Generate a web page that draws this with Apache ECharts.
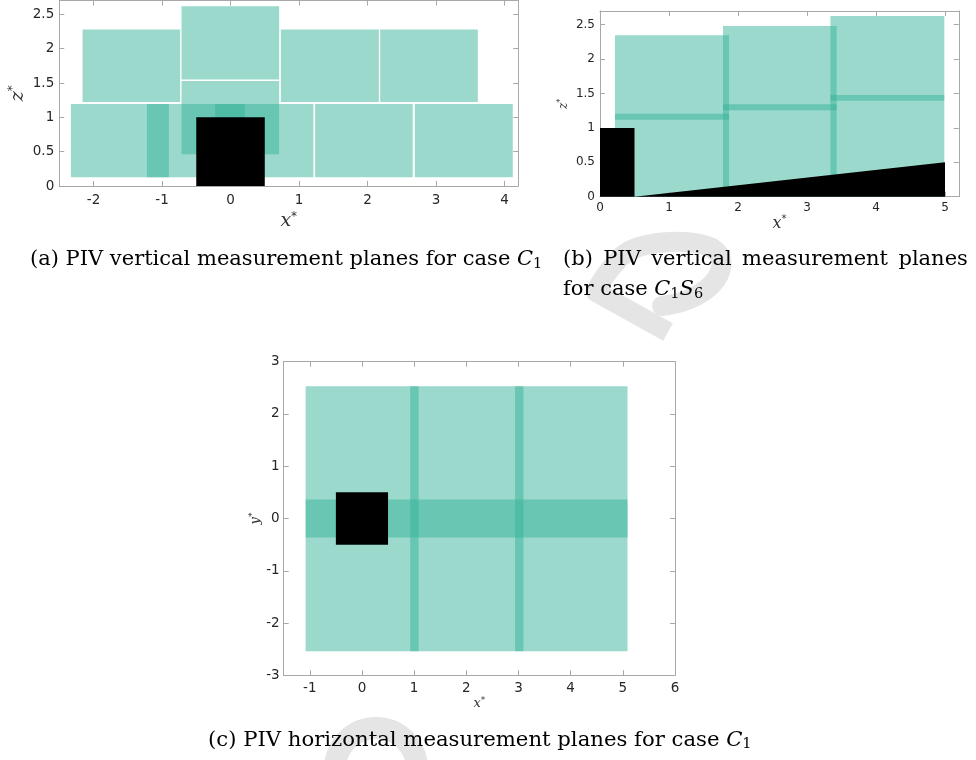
<!DOCTYPE html>
<html>
<head>
<meta charset="utf-8">
<script src="https://cdn.jsdelivr.net/npm/echarts@6/dist/echarts.min.js"></script>
<style>
  html, body { margin: 0; padding: 0; background: #fff; }
  #main { width: 976px; height: 760px; }
</style>
</head>
<body>
<div id="main"></div>
<script>
// ---- (a) case C1, vertical planes seen from the side: [x0, x1, z0, z1]
const planesA_lower = [[-2.33, -0.90, 0.127, 1.194], [-1.22, 0.21, 0.127, 1.194], [-0.225, 1.21, 0.127, 1.194], [1.235, 2.66, 0.127, 1.194], [2.69, 4.12, 0.127, 1.194]];
const planesA_upper = [[-2.16, -0.735, 1.223, 2.28], [-0.715, 0.71, 1.55, 2.617], [-0.715, 0.71, 0.461, 1.53], [0.735, 2.165, 1.223, 2.28], [2.185, 3.61, 1.223, 2.28]];
const cubeA = [[-0.5, 0.5, 0, 1]];
const xRangeA = [-2.5, 4.2];
const zRangeA = [0, 2.7];
const xTicksA = [-2, -1, 0, 1, 2, 3, 4];
const zTicksA = [0, 0.5, 1, 1.5, 2, 2.5];

// ---- (b) case C1S6, planes above the sloping floor
const planesB = [[0.217, 1.87, 0, 2.346], [1.783, 3.43, 0, 2.481], [3.34, 4.99, 0, 2.627]];
const crossPlanesB = [[0.217, 1.87, 1.12, 1.206], [1.783, 3.43, 1.256, 1.343], [3.34, 4.99, 1.395, 1.478]];
const cubeB = [[0, 0.5, 0, 1]];
const slopeB = [[0.5, 0], [5, 0], [5, 0.5]];
const xRangeB = [0, 5.2];
const zRangeB = [0, 2.7];
const xTicksB = [0, 1, 2, 3, 4, 5];
const zTicksB = [0, 0.5, 1, 1.5, 2, 2.5];

// ---- (c) case C1, horizontal plane seen from above
const planeC = [[-1.08, 5.09, -2.54, 2.53]];
const crossPlanesC = [[-1.08, 5.09, -0.363, 0.363], [0.925, 1.085, -2.54, 2.53], [2.935, 3.095, -2.54, 2.53]];
const cubeC = [[-0.5, 0.5, -0.5, 0.5]];
const xRangeC = [-1.5, 6];
const yRangeC = [-3, 3];
const xTicksC = [-1, 0, 1, 2, 3, 4, 5, 6];
const yTicksC = [-3, -2, -1, 0, 1, 2, 3];

const AXIS_GRAY = '#a8a8a8';
const LABEL_COLOR = '#262626';
const PLANE_COLOR = 'rgba(54,180,154,0.5)';
const SOLID = '#000000';
const SERIF = 'DejaVu Serif';
const MARK_GRAY = '#e5e5e5';

function nameStyle(size, starSize, lift) {
  return {
    rich: {
      v: { fontFamily: SERIF, fontStyle: 'italic', fontSize: size, color: '#333' },
      s: { fontFamily: 'DejaVu Sans', fontSize: starSize, color: '#333', padding: [0, 0, lift, 0] }
    }
  };
}

function axisPair(kind, grid, range, ticks, o) {
  const common = {
    type: 'value', gridIndex: grid, min: range[0], max: range[1],
    splitLine: { show: false },
    axisLine: { show: true, onZero: false, lineStyle: { color: AXIS_GRAY, width: 1 } },
    axisTick: { show: true, inside: true, length: 5, customValues: ticks, lineStyle: { color: AXIS_GRAY } }
  };
  const main = Object.assign({}, common, {
    position: kind === 'x' ? 'bottom' : 'left',
    axisLabel: { show: true, customValues: ticks, margin: o.margin, fontSize: o.fs, color: LABEL_COLOR, fontFamily: 'DejaVu Sans' },
    name: o.name, nameLocation: 'middle', nameGap: o.nameGap, nameTextStyle: o.nameStyle
  });
  const mirror = Object.assign({}, common, {
    position: kind === 'x' ? 'top' : 'right',
    axisLabel: { show: false }
  });
  return [main, mirror];
}

function renderRect(params, api) {
  const tl = api.coord([api.value(0), api.value(3)]);
  const br = api.coord([api.value(1), api.value(2)]);
  return {
    type: 'rect',
    shape: { x: tl[0], y: tl[1], width: br[0] - tl[0], height: br[1] - tl[1] },
    style: api.style()
  };
}

function renderTriangle(params, api) {
  const pts = [];
  for (let k = 0; k < 3; k++) pts.push(api.coord([api.value(2 * k), api.value(2 * k + 1)]));
  return { type: 'polygon', shape: { points: pts }, style: api.style() };
}

function rects(axisIdx, data, color) {
  return {
    type: 'custom', xAxisIndex: axisIdx, yAxisIndex: axisIdx, silent: true,
    renderItem: renderRect, data: data, itemStyle: { color: color },
    encode: { x: [0, 1], y: [2, 3] }
  };
}

function stroke(w, cap) {
  return { fill: null, stroke: MARK_GRAY, lineWidth: w, lineCap: cap || 'round' };
}

function captionRich(size) {
  return {
    n: { fontFamily: SERIF, fontSize: size, color: '#111', lineHeight: 28 },
    c: { fontFamily: SERIF, fontStyle: 'italic', fontSize: size, color: '#111', lineHeight: 28 },
    s: { fontFamily: SERIF, fontSize: size * 0.69, color: '#111', lineHeight: 16, padding: [8, 0, 0, 0] },
    g: { fontFamily: SERIF, fontSize: size, width: 10.4, lineHeight: 28 }
  };
}

const chart = echarts.init(document.getElementById('main'), null, { renderer: 'canvas' });

chart.setOption({
  animation: false,
  backgroundColor: '#ffffff',
  grid: [
    { left: 59.25, top: 0.6, width: 459, height: 185.4 },
    { left: 600, top: 10.9, width: 358.8, height: 185.8 },
    { left: 283.7, top: 361.7, width: 391.3, height: 313.6 }
  ],
  xAxis: [].concat(
    axisPair('x', 0, xRangeA, xTicksA, { margin: 7, fs: 13.5, name: '{v|x}{s|*}', nameGap: 25, nameStyle: nameStyle(19, 12, 9) }),
    axisPair('x', 1, xRangeB, xTicksB, { margin: 5, fs: 12, name: '{v|x}{s|*}', nameGap: 16, nameStyle: nameStyle(16, 10, 8) }),
    axisPair('x', 2, xRangeC, xTicksC, { margin: 6, fs: 13.5, name: '{v|x}{s|*}', nameGap: 19, nameStyle: nameStyle(13, 9, 6) })
  ),
  yAxis: [].concat(
    axisPair('y', 0, zRangeA, zTicksA, { margin: 5, fs: 13.5, name: '{v|z}{s|*}', nameGap: 31, nameStyle: nameStyle(19, 12, 9) }),
    axisPair('y', 1, zRangeB, zTicksB, { margin: 5, fs: 12, name: '{v|z}{s|*}', nameGap: 29, nameStyle: nameStyle(12, 8, 6) }),
    axisPair('y', 2, yRangeC, yTicksC, { margin: 4, fs: 13.5, name: '{v|y}{s|*}', nameGap: 20, nameStyle: nameStyle(13, 9, 6) })
  ),
  series: [
    rects(0, planesA_lower, PLANE_COLOR),
    rects(0, planesA_upper, PLANE_COLOR),
    rects(0, cubeA, SOLID),
    rects(2, planesB, PLANE_COLOR),
    rects(2, crossPlanesB, PLANE_COLOR),
    rects(2, cubeB, SOLID),
    {
      type: 'custom', xAxisIndex: 2, yAxisIndex: 2, silent: true,
      renderItem: renderTriangle, data: [slopeB.flat()], itemStyle: { color: SOLID }
    },
    rects(4, planeC, PLANE_COLOR),
    rects(4, crossPlanesC, PLANE_COLOR),
    rects(4, cubeC, SOLID)
  ],
  graphic: [
    // faint background watermark strokes
    { type: 'bezierCurve', silent: true, shape: { x1: 662, y1: 306, cpx1: 715, cpy1: 300, cpx2: 735, cpy2: 262, x2: 712, y2: 248 }, style: stroke(20) },
    { type: 'bezierCurve', silent: true, shape: { x1: 712, y1: 248, cpx1: 690, cpy1: 238, cpx2: 640, cpy2: 240, x2: 622, y2: 256 }, style: stroke(20) },
    { type: 'bezierCurve', silent: true, shape: { x1: 622, y1: 256, cpx1: 610, cpy1: 268, cpx2: 600, cpy2: 282, x2: 596, y2: 292 }, style: stroke(20) },
    { type: 'line', silent: true, shape: { x1: 596, y1: 292, x2: 668, y2: 332 }, style: stroke(20, 'butt') },
    { type: 'arc', silent: true, shape: { cx: 376, cy: 769, r: 41, startAngle: Math.PI, endAngle: Math.PI * 2 }, style: stroke(22, 'butt') },
    // sub-figure captions
    {
      type: 'text', left: 30, top: 249,
      style: { text: '{n|(a) PIV vertical measurement planes for case }{c|C}{s|1}', rich: captionRich(21) }
    },
    {
      type: 'text', left: 563, top: 249,
      style: { text: '{n|(b)}{g| }{n|PIV}{g| }{n|vertical}{g| }{n|measurement}{g| }{n|planes}', rich: captionRich(21) }
    },
    {
      type: 'text', left: 563, top: 279,
      style: { text: '{n|for case }{c|C}{s|1}{c|S}{s|6}', rich: captionRich(21) }
    },
    {
      type: 'text', left: 208, top: 729,
      style: { text: '{n|(c) PIV horizontal measurement planes for case }{c|C}{s|1}', rich: captionRich(21.2) }
    }
  ]
});
</script>
</body>
</html>
